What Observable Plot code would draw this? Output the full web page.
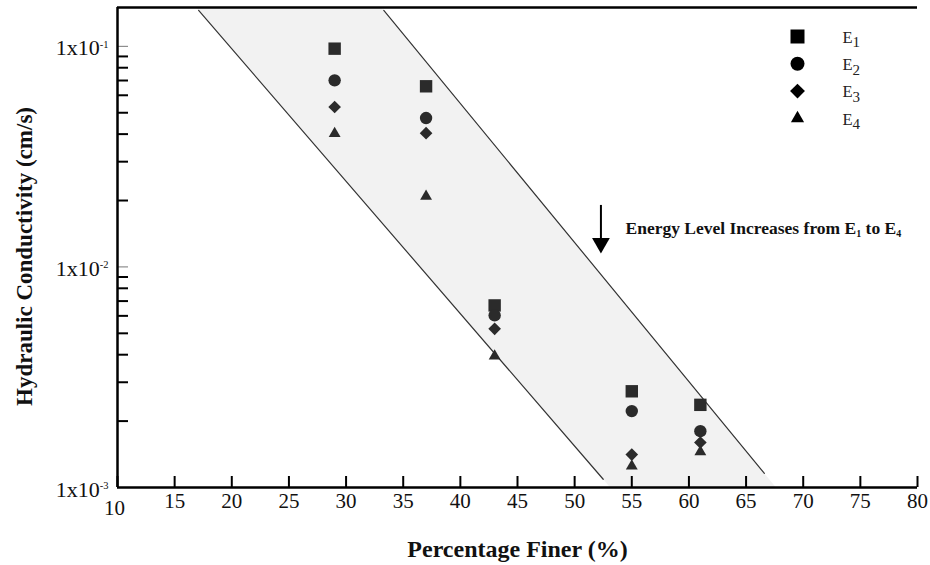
<!DOCTYPE html>
<html>
<head>
<meta charset="utf-8">
<script src="https://cdn.jsdelivr.net/npm/d3@7"></script>
<script src="https://cdn.jsdelivr.net/npm/@observablehq/plot@0.6"></script>
<style>
  html, body { margin: 0; padding: 0; background: #fff; }
  #chart svg { display: block; }
</style>
</head>
<body>
<div id="chart"></div>
<script>
// ---- data ----
const percentFiner = [29, 37, 43, 55, 61];
const seriesNames = ["E~1", "E~2", "E~3", "E~4"];
const E1 = [0.0976, 0.0659, 0.00669, 0.00273, 0.00237];
const E2 = [0.0701, 0.0473, 0.00603, 0.00222, 0.00180];
const E3 = [0.0531, 0.0404, 0.00524, 0.00141, 0.00160];
const E4 = [0.0402, 0.0209, 0.00394, 0.00125, 0.00145];
const seriesValues = [E1, E2, E3, E4];
const seriesSymbols = ["square", "circle", "diamond2", "triangle"];

// band of the trend (two boundary lines and the shaded area between them)
const bandLeftLine = [{x: 17.1, k: 0.1455}, {x: 52.5, k: 0.00109}];
const bandRightLine = [{x: 33.3, k: 0.1455}, {x: 66.6, k: 0.00116}];
const bandFill = [{k: 0.15, left: 16.87, right: 33.07}, {k: 0.001, left: 53.12, right: 67.62}];

// annotation
const annotation = [{x: 54.45, k: 0.0149, text: "Energy Level Increases from E_1 to E_4"}];
const arrow = [{x: 52.3, top: 0.019, tip: 0.01151}];

// ticks
const xTickLabels = [15, 20, 25, 30, 35, 40, 45, 50, 55, 60, 65, 70, 75, 80];
const xTickMarks = [10, 15, 20, 25, 30, 35, 40, 45, 50, 55, 60, 65, 70, 75, 80];
const yMajor = [0.001, 0.01, 0.1];
const yMinor = [0.002, 0.003, 0.004, 0.005, 0.006, 0.007, 0.008, 0.009,
                0.02, 0.03, 0.04, 0.05, 0.06, 0.07, 0.08, 0.09];

const xTitle = "Percentage Finer (%)";
const yTitle = "Hydraulic Conductivity (cm/s)";

// ---- styling ----
const SERIF = "'Liberation Serif', 'Times New Roman', Times, serif";
const W = 930, H = 565, ML = 117, MR = 13, MT = 7, MB = 78;
const FW = W - ML - MR, FH = H - MT - MB;
const dataR = {square: 7, circle: 6.2, diamond2: 5.7, triangle: 4.4};
const legendR = {square: 7.9, circle: 7, diamond2: 6.7, triangle: 4.9};

const marks = [
  Plot.areaX(bandFill, {y: "k", x1: "left", x2: "right", fill: "#f2f2f2"}),
  Plot.line(bandLeftLine, {x: "x", y: "k", stroke: "#333", strokeWidth: 1.2}),
  Plot.line(bandRightLine, {x: "x", y: "k", stroke: "#333", strokeWidth: 1.2}),

  // ticks pointing inward
  Plot.tickX(xTickMarks, {x: d => d, insetTop: FH - 11, stroke: "#000", strokeWidth: 2}),
  Plot.tickY(yMinor, {y: d => d, insetRight: FW - 11, stroke: "#000", strokeWidth: 2}),
  Plot.tickY(yMajor, {y: d => d, insetRight: FW - 11, stroke: "#777", strokeWidth: 1}),

  // frame lines
  Plot.ruleY([0.15], {stroke: "#000", strokeWidth: 2.5}),
  Plot.ruleY([0.001], {stroke: "#000", strokeWidth: 2.5}),
  Plot.ruleX([10], {stroke: "#000", strokeWidth: 2.5}),

  // axes labels
  Plot.axisX(xTickLabels, {tickSize: 0, tickPadding: 6, fontSize: 21, fontFamily: SERIF, label: null, fill: "#111"}),
  Plot.axisX([10], {tickSize: 0, tickPadding: 13, dx: -3, fontSize: 21, fontFamily: SERIF, label: null, fill: "#111"}),
  Plot.axisY(yMajor, {tickSize: 0, tickPadding: 9, dy: 2, fontSize: 22, fontFamily: SERIF, label: null, fill: "#111",
    tickFormat: d => "1x10^" + Math.round(Math.log10(d))}),

  Plot.text([xTitle], {text: d => d, frameAnchor: "bottom", dy: 62, lineAnchor: "middle", textAnchor: "middle",
    fontFamily: SERIF, fontSize: 24, fontWeight: "bold", fill: "#111"}),
  Plot.text([yTitle], {text: d => d, frameAnchor: "left", rotate: -90, dx: -93, dy: 9, lineAnchor: "middle", textAnchor: "middle",
    fontFamily: SERIF, fontSize: 23, fontWeight: "bold", fill: "#111"}),

  // annotation arrow + text
  Plot.ruleX(arrow, {x: "x", y1: "top", y2: "tip", insetBottom: 10, stroke: "#000", strokeWidth: 2}),
  Plot.dot(arrow, {x: "x", y: "tip", symbol: "triangle", rotate: 180, r: 6.6, dy: -10.2, fill: "#000", stroke: "none"}),
  Plot.text(annotation, {x: "x", y: "k", text: "text", textAnchor: "start", lineAnchor: "middle",
    fontFamily: SERIF, fontSize: 17.5, fontWeight: "bold", fill: "#111"})
];

seriesValues.forEach((vals, i) => {
  const sym = seriesSymbols[i];
  const rows = percentFiner.map((x, j) => ({x, k: vals[j]}));
  marks.push(Plot.dot(rows, {x: "x", y: "k", symbol: sym, r: dataR[sym], fill: "#2b2b2b", stroke: "none"}));
  // legend entry
  marks.push(Plot.dot([seriesNames[i]], {frameAnchor: "top-right", dx: -120, dy: 29 + 27.3 * i,
    symbol: sym, r: legendR[sym], fill: "#000", stroke: "none"}));
  marks.push(Plot.text([seriesNames[i]], {text: d => d, frameAnchor: "top-right", dx: -75, dy: 30 + 27.3 * i,
    textAnchor: "start", lineAnchor: "middle", fontFamily: SERIF, fontSize: 16.5, fill: "#222"}));
});

const plot = Plot.plot({
  width: W, height: H,
  marginLeft: ML, marginRight: MR, marginTop: MT, marginBottom: MB,
  style: {fontFamily: SERIF, background: "#fff", overflow: "visible"},
  x: {domain: [10, 80]},
  y: {type: "log", domain: [0.001, 0.15]},
  marks
});

// sub/superscripts as real tspans
const SUB = {"_": {size: 10, dy: 3}, "~": {size: 15, dy: 4.5}};
function enrich(svg) {
  for (const t of svg.querySelectorAll("text")) {
    const s = t.textContent;
    if (!/[_~^]/.test(s)) continue;
    const parts = s.split(/([_~]\w|\^-?\d+)/).filter(p => p !== "");
    while (t.firstChild) t.removeChild(t.firstChild);
    let shift = 0;
    for (const p of parts) {
      const ts = document.createElementNS("http://www.w3.org/2000/svg", "tspan");
      let txt = p, size = null, target = 0;
      if (p[0] === "_" || p[0] === "~") { txt = p.slice(1); size = SUB[p[0]].size; target = SUB[p[0]].dy; }
      else if (p[0] === "^") { txt = p.slice(1); size = 10.5; target = -7.5; }
      if (size) ts.setAttribute("font-size", size);
      const d = target - shift;
      if (d) ts.setAttribute("dy", d);
      shift = target;
      ts.textContent = txt;
      t.appendChild(ts);
    }
  }
}
enrich(plot);
document.getElementById("chart").appendChild(plot);
</script>
</body>
</html>
